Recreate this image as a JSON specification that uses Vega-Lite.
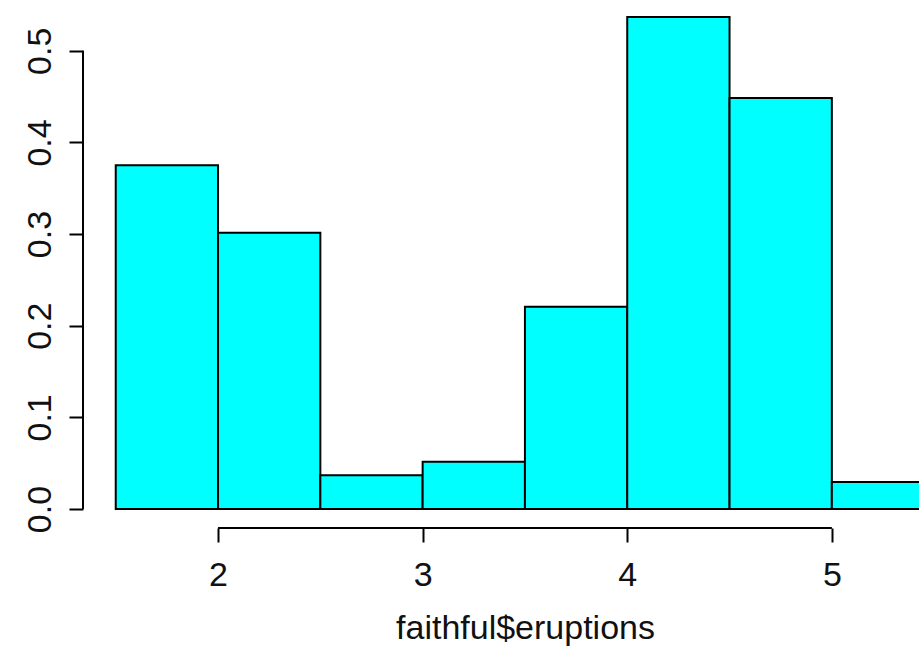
{
  "$schema": "https://vega.github.io/schema/vega-lite/v6.json",
  "autosize": {"type": "none"},
  "padding": {"left": 83, "top": 0, "right": 0, "bottom": 121},
  "width": 836,
  "height": 528,
  "background": "white",
  "config": {
    "view": {"stroke": null},
    "font": "Liberation Sans"
  },
  "layer": [
    {
      "data": {
        "values": [
          {"start": 1.5, "end": 2.0, "count": 51, "density": 0.375},
          {"start": 2.0, "end": 2.5, "count": 41, "density": 0.3015},
          {"start": 2.5, "end": 3.0, "count": 5, "density": 0.0368},
          {"start": 3.0, "end": 3.5, "count": 7, "density": 0.0515},
          {"start": 3.5, "end": 4.0, "count": 30, "density": 0.2206},
          {"start": 4.0, "end": 4.5, "count": 73, "density": 0.5368},
          {"start": 4.5, "end": 5.0, "count": 61, "density": 0.4485},
          {"start": 5.0, "end": 5.5, "count": 4, "density": 0.0294}
        ]
      },
      "mark": {"type": "rect", "fill": "#00FFFF", "stroke": "black", "strokeWidth": 2, "clip": true},
      "encoding": {
        "x": {
          "field": "start",
          "type": "quantitative",
          "scale": {"domain": [1.34, 5.426], "nice": false, "zero": false},
          "axis": {
            "values": [2, 3, 4, 5],
            "format": "d",
            "domain": false,
            "grid": false,
            "tickSize": 14,
            "tickWidth": 2,
            "tickColor": "black",
            "labelFont": "Liberation Sans",
            "labelFontSize": 34,
            "labelColor": "#111",
            "labelBaseline": "alphabetic",
            "labelPadding": 43,
            "labelFlush": false,
            "labelOverlap": false,
            "title": "faithful$eruptions",
            "titleFont": "Liberation Sans",
            "titleFontSize": 34,
            "titleFontWeight": "normal",
            "titleColor": "#111",
            "titleX": 442,
            "titleY": 110,
            "titleAlign": "center",
            "titleBaseline": "alphabetic"
          }
        },
        "x2": {"field": "end"},
        "y": {
          "field": "density",
          "type": "quantitative",
          "scale": {"domain": [-0.0207, 0.5554], "nice": false, "zero": false},
          "axis": {
            "values": [0, 0.1, 0.2, 0.3, 0.4, 0.5],
            "format": ".1f",
            "domain": false,
            "grid": false,
            "tickSize": 14,
            "tickWidth": 2,
            "tickColor": "black",
            "labelFont": "Liberation Sans",
            "labelFontSize": 34,
            "labelColor": "#111",
            "labelAngle": 270,
            "labelAlign": "center",
            "labelBaseline": "alphabetic",
            "labelPadding": 19,
            "labelFlush": false,
            "labelOverlap": false,
            "title": null
          }
        },
        "y2": {"datum": 0}
      }
    },
    {
      "data": {"values": [{}]},
      "mark": {"type": "rule", "color": "black", "strokeWidth": 2},
      "encoding": {
        "x": {"datum": 2},
        "x2": {"datum": 5},
        "y": {"datum": -0.0207}
      }
    },
    {
      "data": {"values": [{}]},
      "mark": {"type": "rule", "color": "black", "strokeWidth": 2},
      "encoding": {
        "x": {"datum": 1.34},
        "y": {"datum": 0},
        "y2": {"datum": 0.5}
      }
    }
  ]
}
